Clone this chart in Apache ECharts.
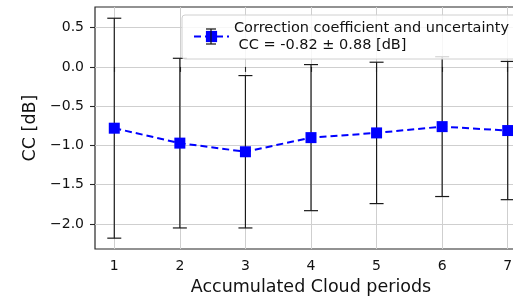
<!DOCTYPE html>
<html>
<head>
<meta charset="utf-8">
<style>
html, body { margin: 0; padding: 0; background: #fff; }
#chart { width: 513px; height: 298px; }
</style>
<script src="https://cdn.jsdelivr.net/npm/echarts@6/dist/echarts.min.js"></script>
</head>
<body>
<div id="chart"></div>
<script>
// values
const periods = [1, 2, 3, 4, 5, 6, 7];
const ccMean = [-0.78, -0.97, -1.08, -0.90, -0.84, -0.76, -0.81];
const ccErr = [1.40, 1.08, 0.97, 0.93, 0.90, 0.89, 0.88];
const xTicks = [1, 2, 3, 4, 5, 6, 7];
const yTicks = [-2.0, -1.5, -1.0, -0.5, 0.0, 0.5];
const legendLines = ['Correction coefficient and uncertainty', ' CC = -0.82 ± 0.88 [dB]'];

const FONT = 'DejaVu Sans';
const lineData = periods.map((p, i) => [p, ccMean[i]]);
const errData = periods.map((p, i) => [p, ccMean[i] - ccErr[i], ccMean[i] + ccErr[i]]);

const fmtY = v => (v < 0 ? '\u2212' : '') + Math.abs(v).toFixed(1);

// little error bar drawn over the legend handle
const capStyle = {stroke: '#111', lineWidth: 1.2};

const option = {
    animation: false,
    backgroundColor: '#fff',
    grid: {
        left: 95, top: 7, width: 432, height: 242,
        outerBoundsMode: 'none', containLabel: false,
        show: true, borderColor: '#262626', borderWidth: 1.2
    },
    xAxis: {
        type: 'value', min: 0.706, max: 7.294,
        name: 'Accumulated Cloud periods', nameLocation: 'middle', nameGap: 29,
        nameTextStyle: {fontFamily: FONT, fontSize: 17.5, color: '#111'},
        axisLine: {show: false},
        axisTick: {show: true, length: 5, lineStyle: {color: '#262626', width: 1.1}, customValues: xTicks},
        axisLabel: {margin: 10, fontFamily: FONT, fontSize: 14, color: '#111', customValues: xTicks},
        splitLine: {show: true, lineStyle: {color: '#cfcfcf', width: 1}}
    },
    yAxis: {
        type: 'value', min: -2.318, max: 0.763,
        name: 'CC [dB]', nameLocation: 'middle', nameGap: 50,
        nameTextStyle: {fontFamily: FONT, fontSize: 17.5, color: '#111'},
        axisLine: {show: false},
        axisTick: {show: true, length: 5, lineStyle: {color: '#262626', width: 1.1}, customValues: yTicks},
        axisLabel: {margin: 11, fontFamily: FONT, fontSize: 14, color: '#111', customValues: yTicks, formatter: fmtY},
        splitLine: {show: true, lineStyle: {color: '#cfcfcf', width: 1}}
    },
    legend: {
        left: 182, top: 15, z: 10,
        padding: [4, 10, 5, 11],
        itemWidth: 35, itemHeight: 14,
        backgroundColor: 'rgba(255,255,255,0.82)',
        borderColor: '#d0d0d0', borderWidth: 1, borderRadius: 3,
        textStyle: {fontFamily: FONT, fontSize: 14.5, color: '#111', lineHeight: 17.5},
        data: ['cc'],
        formatter: () => legendLines.join('\n')
    },
    graphic: [
        {type: 'line', z: 100, zlevel: 1, shape: {x1: 211, y1: 29, x2: 211, y2: 44}, style: capStyle},
        {type: 'line', z: 100, zlevel: 1, shape: {x1: 206, y1: 29, x2: 216, y2: 29}, style: capStyle},
        {type: 'line', z: 100, zlevel: 1, shape: {x1: 206, y1: 44, x2: 216, y2: 44}, style: capStyle}
    ],
    series: [
        {
            type: 'custom', name: 'err', z: 2,
            data: errData,
            renderItem: (params, api) => {
                const x = api.value(0);
                const lo = api.coord([x, api.value(1)]);
                const hi = api.coord([x, api.value(2)]);
                const st = {stroke: '#1a1a1a', lineWidth: 1.2};
                return {
                    type: 'group',
                    children: [
                        {type: 'line', shape: {x1: lo[0], y1: lo[1], x2: hi[0], y2: hi[1]}, style: st},
                        {type: 'line', shape: {x1: lo[0] - 7, y1: lo[1], x2: lo[0] + 7, y2: lo[1]}, style: st},
                        {type: 'line', shape: {x1: hi[0] - 7, y1: hi[1], x2: hi[0] + 7, y2: hi[1]}, style: st}
                    ]
                };
            }
        },
        {
            type: 'line', name: 'cc', z: 5,
            data: lineData,
            symbol: 'rect', symbolSize: 11,
            itemStyle: {color: '#0000ff'},
            lineStyle: {color: '#0000ff', width: 2, type: [7, 4]}
        }
    ]
};

const myChart = echarts.init(document.getElementById('chart'));
myChart.setOption(option);
</script>
</body>
</html>
